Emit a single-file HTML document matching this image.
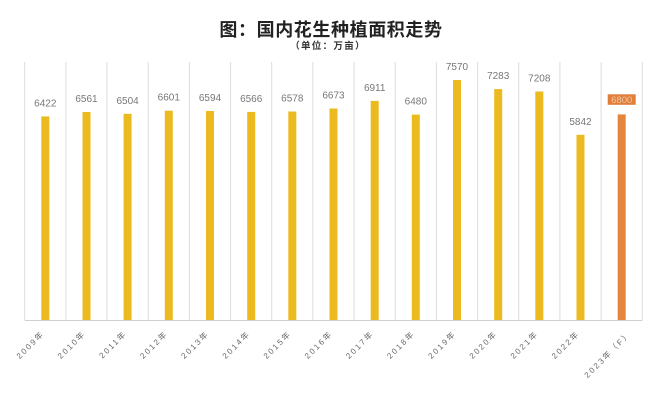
<!DOCTYPE html>
<html><head><meta charset="utf-8"><style>
html,body{margin:0;padding:0;background:#fff;}
body{width:660px;height:403px;overflow:hidden;}
svg{display:block;}
</style></head><body>
<svg width="660" height="403" viewBox="0 0 660 403" xmlns="http://www.w3.org/2000/svg" font-family="'Liberation Sans','Noto Sans CJK SC',sans-serif">
<rect width="660" height="403" fill="#fff"/>
<text x="331" y="36" text-anchor="middle" font-size="18" font-weight="bold" fill="#222" letter-spacing="0.6" font-family="'Noto Sans CJK SC',sans-serif">图：国内花生种植面积走势</text>
<text x="328" y="49" text-anchor="middle" font-size="9.5" font-weight="bold" fill="#333" letter-spacing="1.3" font-family="'Noto Sans CJK SC',sans-serif">（单位：万亩）</text>
<g stroke="#dcdcdc" stroke-width="1">
<line x1="24.7" y1="62" x2="24.7" y2="320"/>
<line x1="65.9" y1="62" x2="65.9" y2="320"/>
<line x1="107.0" y1="62" x2="107.0" y2="320"/>
<line x1="148.2" y1="62" x2="148.2" y2="320"/>
<line x1="189.4" y1="62" x2="189.4" y2="320"/>
<line x1="230.6" y1="62" x2="230.6" y2="320"/>
<line x1="271.7" y1="62" x2="271.7" y2="320"/>
<line x1="312.9" y1="62" x2="312.9" y2="320"/>
<line x1="354.1" y1="62" x2="354.1" y2="320"/>
<line x1="395.2" y1="62" x2="395.2" y2="320"/>
<line x1="436.4" y1="62" x2="436.4" y2="320"/>
<line x1="477.6" y1="62" x2="477.6" y2="320"/>
<line x1="518.7" y1="62" x2="518.7" y2="320"/>
<line x1="559.9" y1="62" x2="559.9" y2="320"/>
<line x1="601.1" y1="62" x2="601.1" y2="320"/>
<line x1="642.3" y1="62" x2="642.3" y2="320"/>
<line x1="24.7" y1="320.5" x2="642.3" y2="320.5" stroke="#d0d0d0"/>
</g>
<g fill="#EBBA1F">
<rect x="41.3" y="116.4" width="8" height="203.6"/>
<rect x="82.5" y="112.0" width="8" height="208.0"/>
<rect x="123.6" y="113.8" width="8" height="206.2"/>
<rect x="164.8" y="110.7" width="8" height="209.3"/>
<rect x="206.0" y="111.0" width="8" height="209.0"/>
<rect x="247.2" y="111.9" width="8" height="208.1"/>
<rect x="288.3" y="111.5" width="8" height="208.5"/>
<rect x="329.5" y="108.5" width="8" height="211.5"/>
<rect x="370.7" y="100.9" width="8" height="219.1"/>
<rect x="411.8" y="114.6" width="8" height="205.4"/>
<rect x="453.0" y="80.0" width="8" height="240.0"/>
<rect x="494.2" y="89.1" width="8" height="230.9"/>
<rect x="535.3" y="91.5" width="8" height="228.5"/>
<rect x="576.5" y="134.8" width="8" height="185.2"/>
</g>
<rect x="617.7" y="114.4" width="8" height="205.6" fill="#E5843C"/>
<g font-size="10" fill="#777" text-anchor="middle">
<text x="45.3" y="106.4">6422</text>
<text x="86.5" y="102.0">6561</text>
<text x="127.6" y="103.8">6504</text>
<text x="168.8" y="100.7">6601</text>
<text x="210.0" y="101.0">6594</text>
<text x="251.2" y="101.9">6566</text>
<text x="292.3" y="101.5">6578</text>
<text x="333.5" y="98.5">6673</text>
<text x="374.7" y="90.9">6911</text>
<text x="415.8" y="104.6">6480</text>
<text x="457.0" y="70.0">7570</text>
<text x="498.2" y="79.1">7283</text>
<text x="539.3" y="81.5">7208</text>
<text x="580.5" y="124.8">5842</text>
</g>
<rect x="607.7" y="94.3" width="28" height="10.5" fill="#E07E3A"/>
<text x="621.7" y="103" font-size="9.5" fill="#F3C9A8" text-anchor="middle">6800</text>
<g font-size="8" fill="#666" text-anchor="end" letter-spacing="2" font-family="'Liberation Sans','Noto Sans CJK SC',sans-serif">
<text transform="translate(45,334) rotate(-45)">2009年</text>
<text transform="translate(86.2,334) rotate(-45)">2010年</text>
<text transform="translate(127.3,334) rotate(-45)">2011年</text>
<text transform="translate(168.5,334) rotate(-45)">2012年</text>
<text transform="translate(209.7,334) rotate(-45)">2013年</text>
<text transform="translate(250.9,334) rotate(-45)">2014年</text>
<text transform="translate(292.0,334) rotate(-45)">2015年</text>
<text transform="translate(333.2,334) rotate(-45)">2016年</text>
<text transform="translate(374.4,334) rotate(-45)">2017年</text>
<text transform="translate(415.5,334) rotate(-45)">2018年</text>
<text transform="translate(456.7,334) rotate(-45)">2019年</text>
<text transform="translate(497.9,334) rotate(-45)">2020年</text>
<text transform="translate(539.0,334) rotate(-45)">2021年</text>
<text transform="translate(580.2,334) rotate(-45)">2022年</text>
<text transform="translate(632,334) rotate(-45)">2023年（F）</text>
</g>
</svg>
</body></html>
